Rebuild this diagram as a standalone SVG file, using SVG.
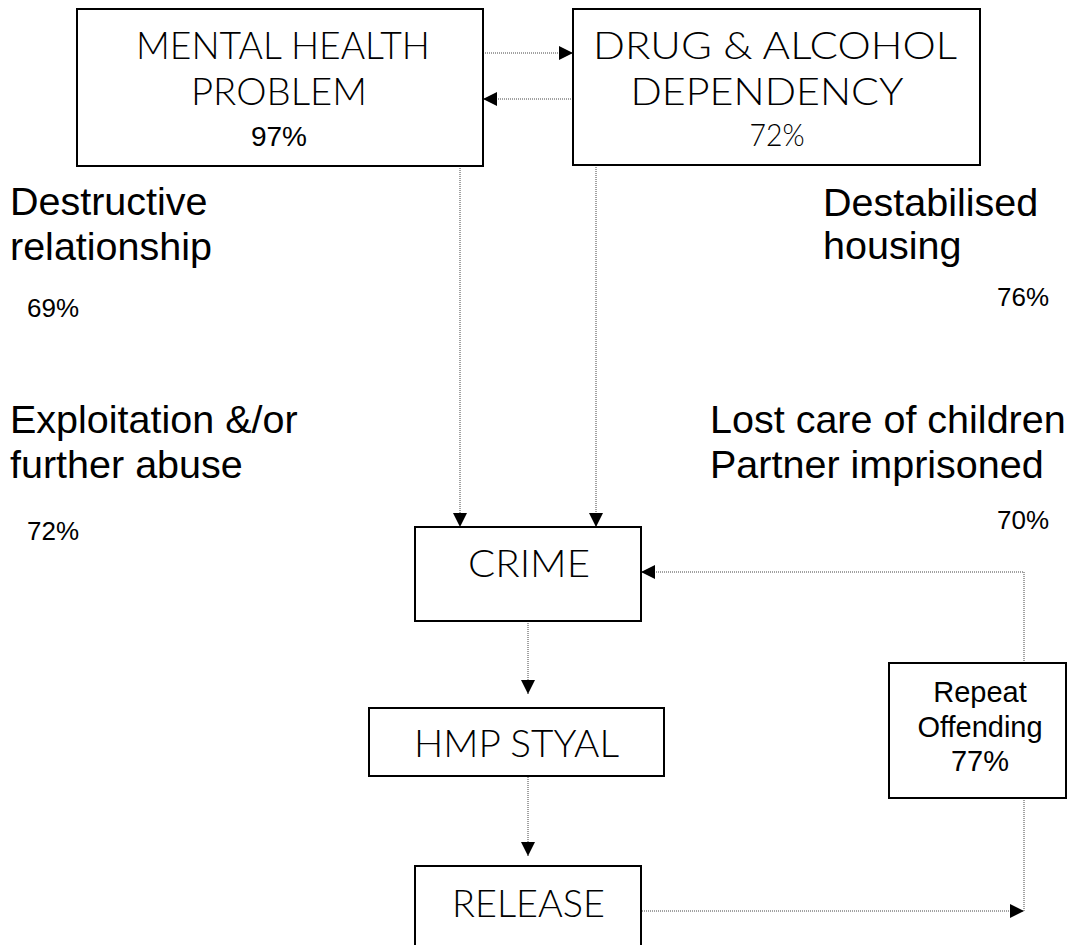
<svg xmlns="http://www.w3.org/2000/svg" width="1074" height="945" viewBox="0 0 1074 945">
<style>
.box{fill:#fff;stroke:#000;stroke-width:2}
.bt{font-family:Lato,"Open Sans",sans-serif;font-weight:300;font-size:37px;fill:#000;text-anchor:middle}
.pc{font-family:"Liberation Sans",Arial,sans-serif;font-size:28px;fill:#000;text-anchor:middle}
.lbl{font-family:"Liberation Sans",Arial,sans-serif;font-size:39.5px;fill:#000}
.sm{font-family:"Liberation Sans",Arial,sans-serif;font-size:26px;fill:#000}
.rt{font-family:"Liberation Sans",Arial,sans-serif;font-size:29px;fill:#000;text-anchor:middle}
.con{fill:none;stroke:#444;stroke-width:1;stroke-dasharray:1 1}
</style>
<defs>
<marker id="ah" viewBox="0 0 10 10" markerUnits="userSpaceOnUse" markerWidth="14" markerHeight="14" refX="10" refY="5" orient="auto">
<path d="M0,0 L10,5 L0,10 z" fill="#000"/>
</marker>
</defs>
<rect width="1074" height="945" fill="#fff"/>
<g id="connectors">
<line class="con" x1="483" y1="53" x2="573" y2="53" marker-end="url(#ah)"/>
<line class="con" x1="573" y1="99" x2="483" y2="99" marker-end="url(#ah)"/>
<line class="con" x1="460" y1="166" x2="460" y2="527" marker-end="url(#ah)"/>
<line class="con" x1="596" y1="165" x2="596" y2="527" marker-end="url(#ah)"/>
<line class="con" x1="528" y1="621" x2="528" y2="694" marker-end="url(#ah)"/>
<line class="con" x1="528" y1="777" x2="528" y2="856" marker-end="url(#ah)"/>
<line class="con" x1="642" y1="911" x2="1024" y2="911" marker-end="url(#ah)"/>
<path class="con" d="M1024,911 V572 H641" marker-end="url(#ah)"/>
</g>
<g id="mental-health">
<rect class="box" x="77" y="9" width="406" height="157"/>
<text class="bt" x="283" y="59" textLength="294" lengthAdjust="spacingAndGlyphs">MENTAL HEALTH</text>
<text class="bt" x="279" y="105" textLength="176" lengthAdjust="spacingAndGlyphs">PROBLEM</text>
<text class="pc" x="279" y="146">97%</text>
</g>
<g id="drug-alcohol">
<rect class="box" x="573" y="9" width="407" height="156"/>
<text class="bt" x="775" y="59" textLength="364" lengthAdjust="spacingAndGlyphs">DRUG &amp; ALCOHOL</text>
<text class="bt" x="767" y="105" textLength="273" lengthAdjust="spacingAndGlyphs">DEPENDENCY</text>
<text class="bt" x="777" y="146" style="font-size:31px" textLength="55" lengthAdjust="spacingAndGlyphs">72%</text>
</g>
<g id="destructive">
<text class="lbl" x="10" y="215">Destructive</text>
<text class="lbl" x="10" y="260">relationship</text>
<text class="sm" x="27" y="317">69%</text>
</g>
<g id="exploitation">
<text class="lbl" x="10" y="433">Exploitation &amp;/or</text>
<text class="lbl" x="10" y="478">further abuse</text>
<text class="sm" x="27" y="540">72%</text>
</g>
<g id="housing">
<text class="lbl" x="823" y="216">Destabilised</text>
<text class="lbl" x="823" y="259">housing</text>
<text class="sm" x="997" y="306">76%</text>
</g>
<g id="children">
<text class="lbl" x="710" y="433">Lost care of children</text>
<text class="lbl" x="710" y="478">Partner imprisoned</text>
<text class="sm" x="997" y="529">70%</text>
</g>
<g id="crime">
<rect class="box" x="415" y="527" width="226" height="94"/>
<text class="bt" x="529" y="577" textLength="122" lengthAdjust="spacingAndGlyphs">CRIME</text>
</g>
<g id="hmp-styal">
<rect class="box" x="369" y="708" width="295" height="68"/>
<text class="bt" x="516.5" y="757" textLength="205" lengthAdjust="spacingAndGlyphs">HMP STYAL</text>
</g>
<g id="release">
<rect class="box" x="415" y="866" width="226" height="90"/>
<text class="bt" x="528.5" y="917" textLength="153" lengthAdjust="spacingAndGlyphs">RELEASE</text>
</g>
<g id="repeat">
<rect class="box" x="889" y="663" width="177" height="135"/>
<text class="rt" x="980" y="702">Repeat</text>
<text class="rt" x="980" y="737">Offending</text>
<text class="rt" x="980" y="771">77%</text>
</g>
</svg>
